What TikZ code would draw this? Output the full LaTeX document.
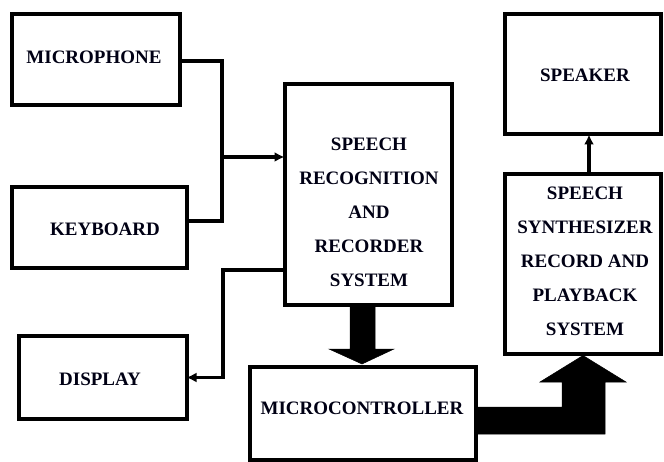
\documentclass[tikz,border=0pt]{standalone}
\usepackage{fontspec}
\setmainfont{Liberation Serif}
\usetikzlibrary{arrows.meta}
\begin{document}
\begin{tikzpicture}[x=1pt,y=-1pt,
  box/.style={draw, line width=4pt, inner sep=0pt, outer sep=0pt, line join=miter},
  lbl/.style={font=\fontsize{19}{34}\selectfont\bfseries, align=center, inner sep=0pt, text=black!92!blue},
  conn/.style={line width=3.2pt, line join=miter},
  tip/.style={-{Latex[length=10pt,width=10pt]}},
  fat/.style={fill=black, draw=black, line width=0.5pt}]
\useasboundingbox (0,0) rectangle (664,462);
% boxes
\node[box, minimum width=168pt, minimum height=91pt] (mic) at (95.5,60) {};
\node[box, minimum width=175pt, minimum height=81pt] (kb) at (99,228) {};
\node[box, minimum width=168pt, minimum height=82pt] (disp) at (102.5,377.5) {};
\node[box, minimum width=167pt, minimum height=221pt] (srrs) at (368,195) {};
\node[box, minimum width=226pt, minimum height=93pt] (mcu) at (362.5,413) {};
\node[box, minimum width=156pt, minimum height=120pt] (spk) at (582.5,74.5) {};
\node[box, minimum width=156pt, minimum height=179pt] (ssrps) at (582.5,264) {};
% labels
\node[lbl] (micl) at (94,57) {MICROPHONE};
\node[lbl] (kbl) at (105,229) {KEYBOARD};
\node[lbl] (displ) at (100,379) {DISPLAY};
\node[lbl] (srrsl) at (369,212) {SPEECH\\RECOGNITION\\AND\\RECORDER\\SYSTEM};
\node[lbl] (mcul) at (362,408) {MICROCONTROLLER};
\node[lbl] (spkl) at (585,75) {SPEAKER};
\node[lbl] (ssrpsl) at (585,261) {SPEECH\\SYNTHESIZER\\RECORD AND\\PLAYBACK\\SYSTEM};
% thin connectors
\coordinate (j) at (222,157);
\draw[conn] ([yshift=-1pt]mic.east) -| (j);
\draw[conn] ([yshift=7pt]kb.east) -| (j);
\draw[conn, tip] (j) -- (srrs.west |- j);
\coordinate (d1) at (223,270);
\draw[conn, tip] (srrs.west |- d1) -| (223,377.5) -- (disp.east);
\draw[conn, tip] ([xshift=6.5pt]ssrps.north) -- ([xshift=6.5pt]spk.south);
% fat arrows
\draw[fat] (350,306) -- (375,306) -- (375,349) -- (394,349) -- (362,364) -- (329,349) -- (350,349) -- cycle;
\draw[fat] (476,407) -- (562,407) -- (562,382) -- (540,382) -- (583,355.5) -- (626,382) -- (605,382) -- (605,434) -- (476,434) -- cycle;
\end{tikzpicture}
\end{document}
